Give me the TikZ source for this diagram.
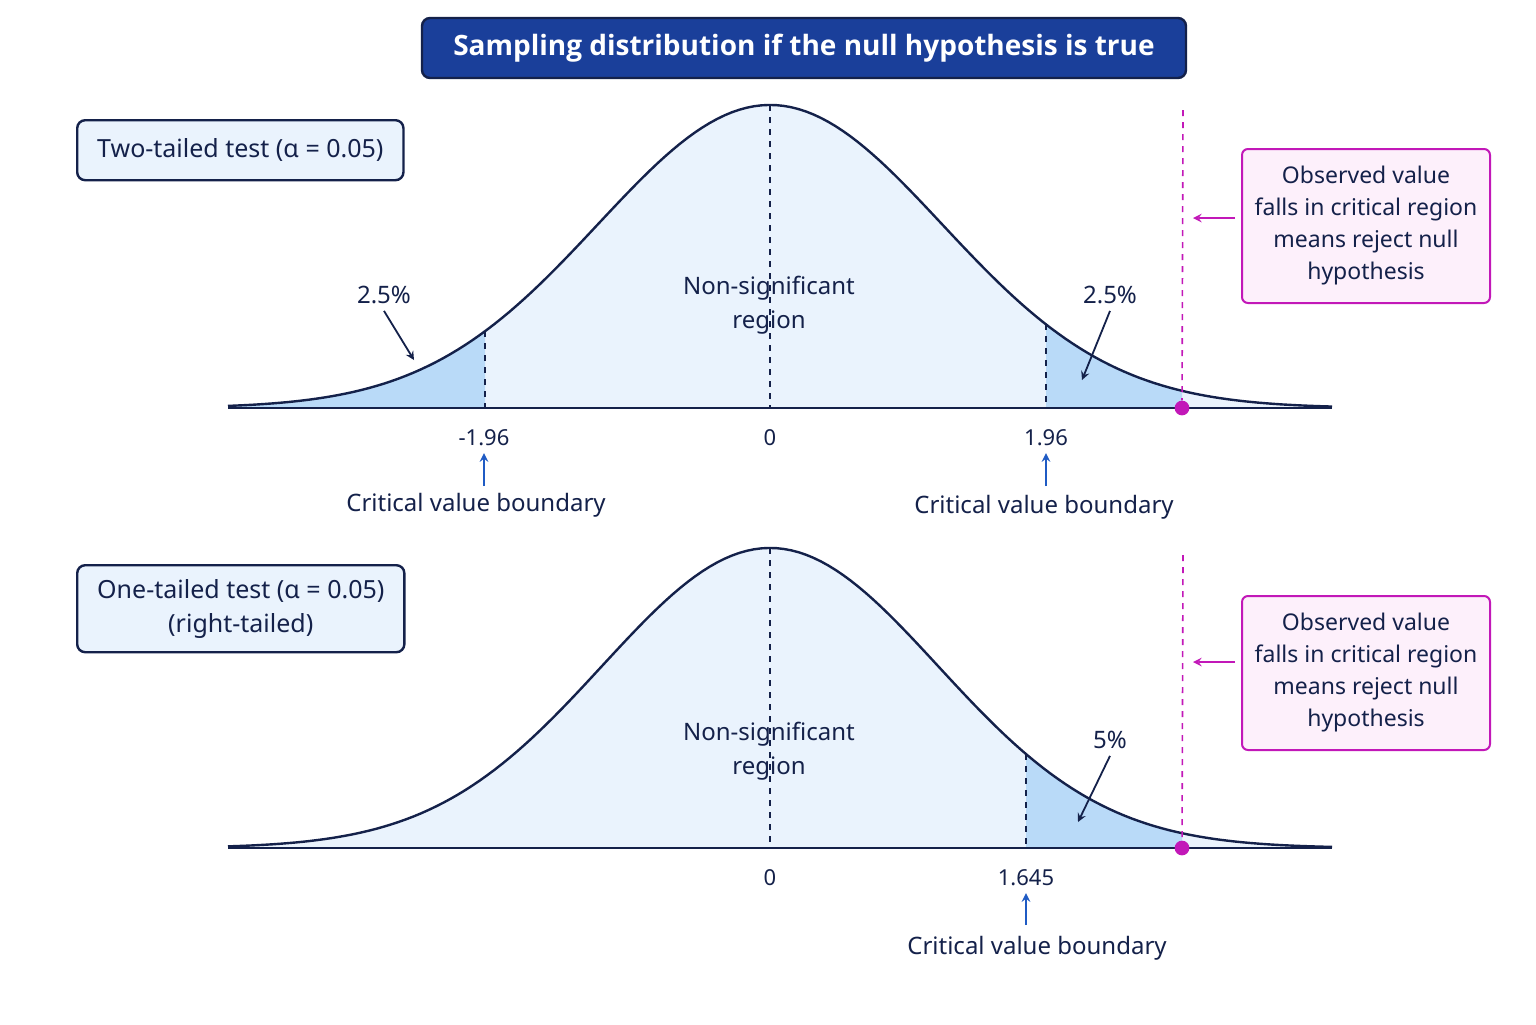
\documentclass[tikz,border=0pt]{standalone}
\usepackage{fontspec}
\setmainfont{Noto Sans}
\newfontfamily\titlefont{Open Sans}
\usetikzlibrary{positioning}
\definecolor{navy}{HTML}{14214A}
\definecolor{titleblue}{HTML}{1A3F9A}
\definecolor{paleblue}{HTML}{EAF3FD}
\definecolor{tailblue}{HTML}{B9DAF8}
\definecolor{markblue}{HTML}{1F5BC4}
\definecolor{obsmag}{HTML}{C218B8}
\definecolor{obsfill}{HTML}{FDF0FB}
\tikzset{
  lbl/.style={font=\fontsize{12}{17}\selectfont,text=navy,align=center},
  tick/.style={font=\fontsize{11}{12}\selectfont,text=navy},
  testbox/.style={draw=navy,line width=1.2pt,fill=paleblue,rounded corners=4pt,
    font=\fontsize{12.5}{17}\selectfont,text=navy,align=center,anchor=north west,
    inner xsep=10pt,inner ysep=7pt,minimum height=30pt},
  obsbox/.style={draw=obsmag,line width=1pt,fill=obsfill,rounded corners=3pt,
    font=\fontsize{11.5}{16}\selectfont,text=navy,align=center,
    minimum width=124pt,minimum height=77pt,anchor=north west},
  curve/.style={navy,line width=1.2pt},
  guide/.style={navy,dashed,line width=0.8pt},
  obsline/.style={obsmag,dashed,line width=0.8pt},
  upmark/.style={markblue,line width=0.9pt,-stealth},
  pointer/.style={navy,line width=0.9pt,-stealth},
}
\begin{document}
\begin{tikzpicture}[x=0.5pt,y=-0.5pt]
  \useasboundingbox[fill=white] (0,0) rectangle (1536,1024);
  % title
  \node[draw=navy,line width=1.2pt,fill=titleblue,rounded corners=4pt,text=white,
    font=\titlefont\fontsize{14}{16}\selectfont\bfseries,minimum width=382pt,minimum height=30pt]
    (title) at (804,48) {Sampling distribution if the null hypothesis is true};
  % two-tailed curve
  \begin{scope}
    \fill[paleblue] (228,408) -- plot[domain=228:1332,samples=150] (\x,{408-303*exp(-((\x-770)/172)^2/2)}) -- (1332,408) -- cycle;
    \fill[tailblue] (228,408) -- plot[domain=228:485,samples=50] (\x,{408-303*exp(-((\x-770)/172)^2/2)}) -- (485,408) -- cycle;
    \fill[tailblue] (1046,408) -- plot[domain=1046:1182,samples=40] (\x,{408-303*exp(-((\x-770)/172)^2/2)}) -- (1182,408) -- cycle;
    \draw[guide] (770,105) -- (770,408);
    \draw[guide] (485,{408-303*exp(-((485-770)/172)^2/2)}) -- (485,408);
    \draw[guide] (1046,{408-303*exp(-((1046-770)/172)^2/2)}) -- (1046,408);
    \draw[curve] plot[domain=228:1332,samples=150] (\x,{408-303*exp(-((\x-770)/172)^2/2)});
    \draw[curve] (228,408) -- (1332,408);
  \end{scope}
  \node[testbox] (twotail) at (76,119) {Two-tailed test (α = 0.05)};
  \node[lbl] (nonsigA) at (769,305) {Non-significant\\region};
  \node[lbl] (pctLeft) at (384,295) {2.5\%};
  \coordinate (pctLeftTip) at (414,360);
  \draw[pointer] (pctLeft.south) -- (pctLeftTip);
  \node[lbl] (pctRight) at (1110,295) {2.5\%};
  \coordinate (pctRightTip) at (1082,380);
  \draw[pointer] (pctRight.south) -- (pctRightTip);
  \node[tick] (tickLeft) at (484,438) {-1.96};
  \node[tick] (tickZeroA) at (770,438) {0};
  \node[tick] (tickRight) at (1046,438) {1.96};
  \node[lbl] (critLeft) at (476,505) {Critical value boundary};
  \node[lbl] (critRight) at (1044,507) {Critical value boundary};
  \draw[upmark] (484,486) -- (tickLeft.south);
  \draw[upmark] (1046,486) -- (tickRight.south);
  \coordinate (obsTopA) at (1183,110);
  \node[circle,fill=obsmag,inner sep=2.6pt] (obsDotA) at (1182,408) {};
  \draw[obsline] (obsTopA) -- (obsDotA);
  \node[obsbox] (obsA) at (1241,148) {Observed value\\falls in critical region\\means reject null\\hypothesis};
  \coordinate (obsTipA) at (1193,218);
  \draw[obsmag,line width=0.9pt,-stealth] (1235,218) -- (obsTipA);
  % one-tailed curve
  \begin{scope}
    \fill[paleblue] (228,848) -- plot[domain=228:1332,samples=150] (\x,{848-300*exp(-((\x-770)/168)^2/2)}) -- (1332,848) -- cycle;
    \fill[tailblue] (1026,848) -- plot[domain=1026:1182,samples=40] (\x,{848-300*exp(-((\x-770)/168)^2/2)}) -- (1182,848) -- cycle;
    \draw[guide] (770,548) -- (770,848);
    \draw[guide] (1026,{848-300*exp(-((1026-770)/168)^2/2)}) -- (1026,848);
    \draw[curve] plot[domain=228:1332,samples=150] (\x,{848-300*exp(-((\x-770)/168)^2/2)});
    \draw[curve] (228,848) -- (1332,848);
  \end{scope}
  \node[testbox] (onetail) at (76,564) {One-tailed test (α = 0.05)\\(right-tailed)};
  \node[lbl] (nonsigB) at (769,751) {Non-significant\\region};
  \node[lbl] (pctOne) at (1110,740) {5\%};
  \coordinate (pctOneTip) at (1078,822);
  \draw[pointer] (pctOne.south) -- (pctOneTip);
  \node[tick] (tickZeroB) at (770,878) {0};
  \node[tick] (tickOne) at (1026,878) {1.645};
  \node[lbl] (critOne) at (1037,948) {Critical value boundary};
  \draw[upmark] (1026,925) -- (tickOne.south);
  \coordinate (obsTopB) at (1183,555);
  \node[circle,fill=obsmag,inner sep=2.6pt] (obsDotB) at (1182,848) {};
  \draw[obsline] (obsTopB) -- (obsDotB);
  \node[obsbox] (obsB) at (1241,595) {Observed value\\falls in critical region\\means reject null\\hypothesis};
  \coordinate (obsTipB) at (1193,662);
  \draw[obsmag,line width=0.9pt,-stealth] (1235,662) -- (obsTipB);
\end{tikzpicture}
\end{document}
